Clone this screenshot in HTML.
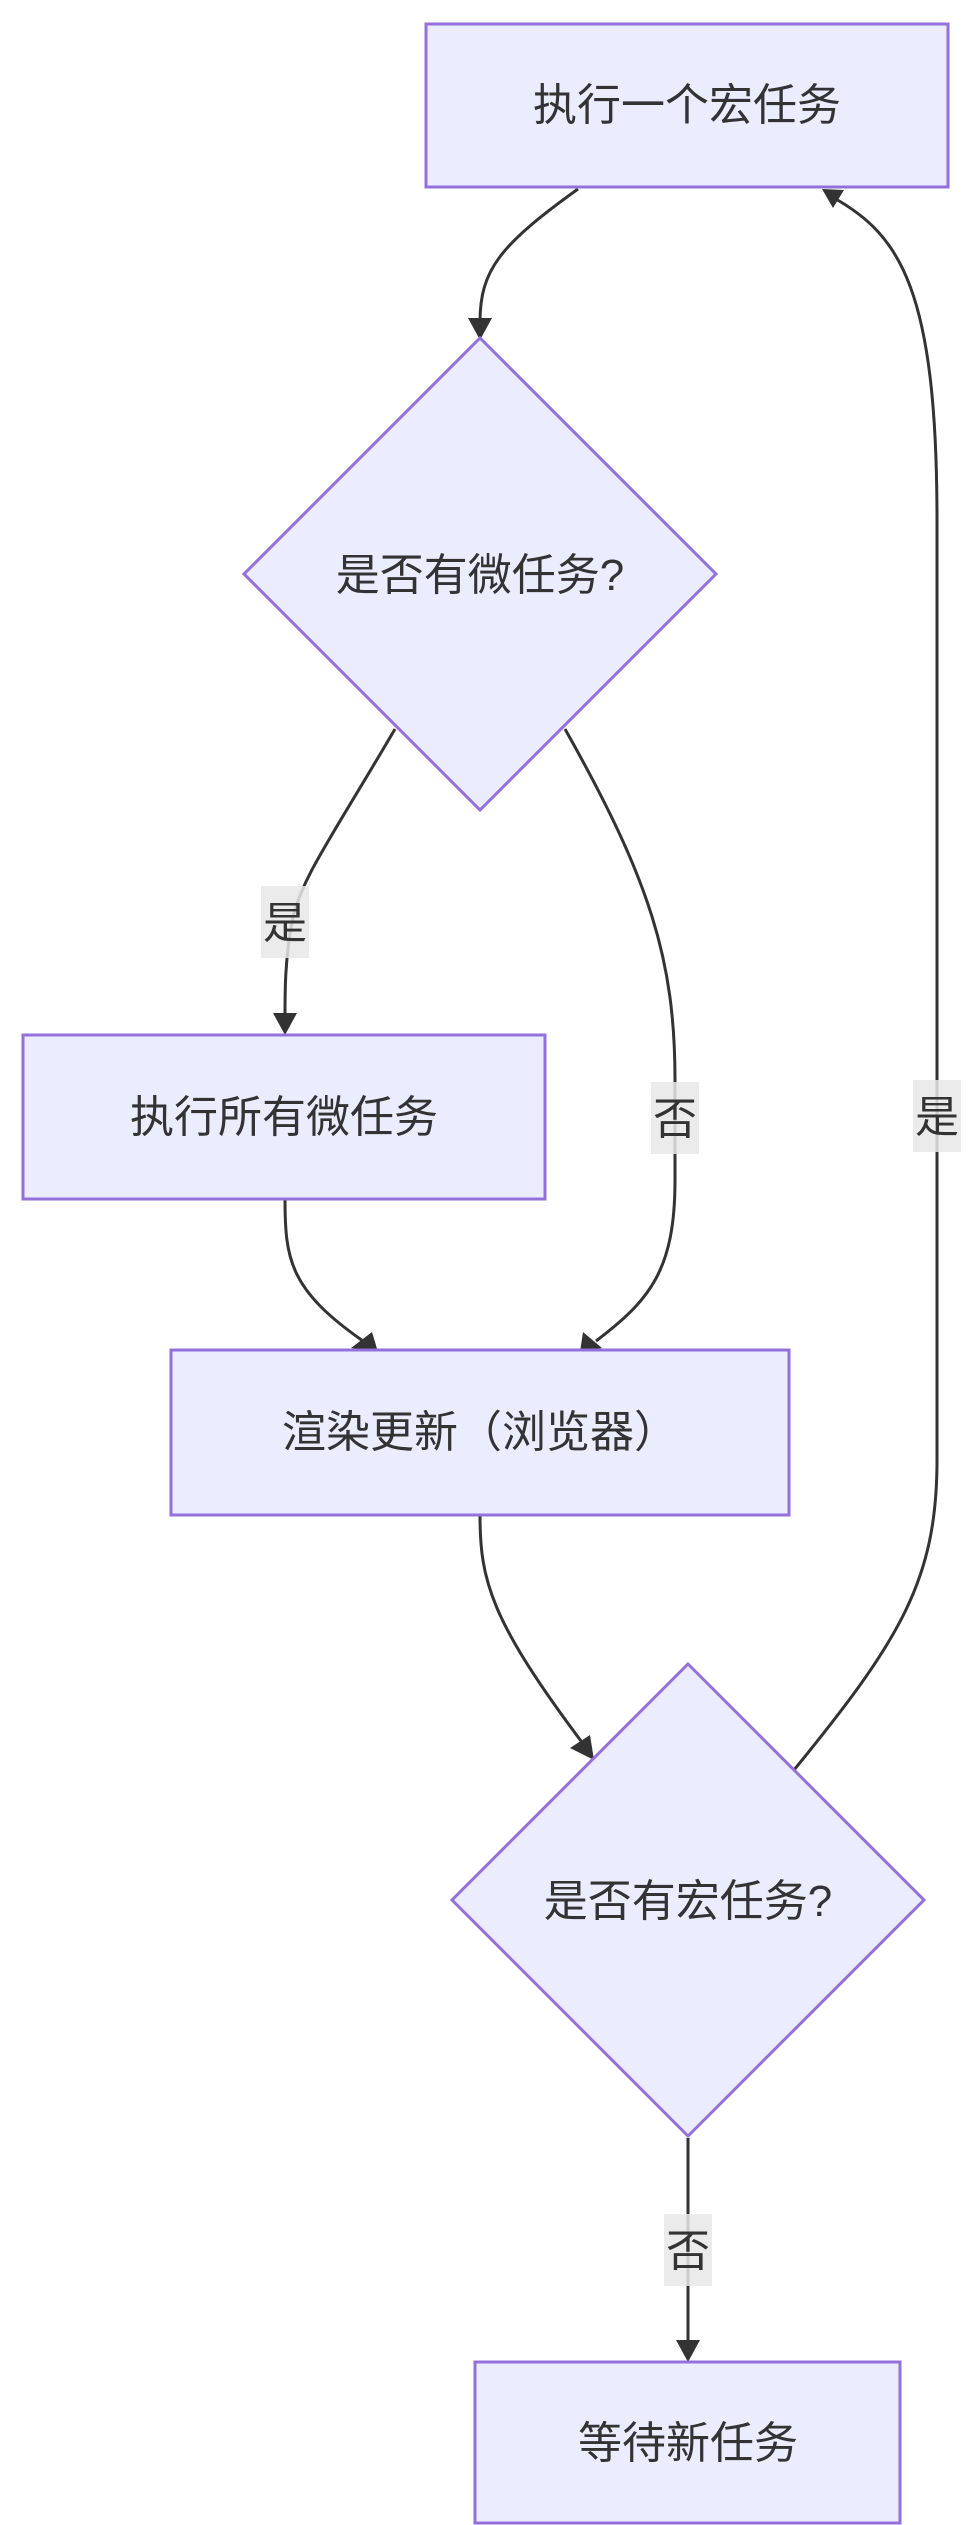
<!DOCTYPE html>
<html><head><meta charset="utf-8"><style>
html,body{margin:0;padding:0;background:#fff}
svg{display:block}
text{font-family:"Liberation Sans","Noto Sans CJK SC",sans-serif;font-size:44px;fill:#333}
.n{fill:#ececff;stroke:#9370db;stroke-width:3}
.e{fill:none;stroke:#333;stroke-width:3}
.l{fill:rgba(232,232,232,0.85)}
</style></head><body>
<svg width="976" height="2525" viewBox="0 0 976 2525" xmlns="http://www.w3.org/2000/svg">
<defs><marker id="a" viewBox="0 0 10 10" refX="9" refY="5" markerWidth="8" markerHeight="8" markerUnits="userSpaceOnUse" orient="auto" style="overflow:visible"><path d="M0,0 L10,5 L0,10 z" fill="#333" transform="scale(2.6) translate(-6,-0)"/></marker></defs>
<!-- edges -->
<path class="e" d="M578,189 C500,245 480,270 480,322" />
<path d="M468,318 L492,318 L480,340 z" fill="#333"/>
<path class="e" d="M395,729 C330,840 300,880 292,922 C285,960 285,990 285,1016"/>
<path d="M273,1013 L297,1013 L285,1035 z" fill="#333"/>
<path class="e" d="M565,729 C650,880 675,960 675,1080 L675,1180 C675,1270 650,1300 596,1341"/>
<path d="M583,1332 L602,1348 L580,1352 z" fill="#333"/>
<path class="e" d="M285,1199 C285,1260 290,1290 363,1341"/>
<path d="M351,1348 L372,1332 L378,1352 z" fill="#333"/>
<path class="e" d="M480,1515 C480,1580 490,1620 584,1745"/>
<path d="M570,1748 L590,1735 L594,1760 z" fill="#333"/>
<path class="e" d="M794,1770 C900,1640 937,1580 937,1460 L937,520 C937,290 900,235 834,198"/>
<path d="M822,189 L844,190 L833,208 z" fill="#333"/>
<path class="e" d="M688,2138 L688,2342"/>
<path d="M676,2340 L700,2340 L688,2362 z" fill="#333"/>
<!-- labels -->
<rect class="l" x="261" y="886" width="48" height="72"/><text x="285" y="938" text-anchor="middle">是</text>
<rect class="l" x="651" y="1082" width="48" height="72"/><text x="675" y="1134" text-anchor="middle">否</text>
<rect class="l" x="913" y="1080" width="48" height="72"/><text x="937" y="1132" text-anchor="middle">是</text>
<rect class="l" x="664" y="2214" width="48" height="72"/><text x="688" y="2266" text-anchor="middle">否</text>
<!-- nodes -->
<rect class="n" x="426" y="24" width="522" height="163"/>
<text x="687" y="120" text-anchor="middle">执行一个宏任务</text>
<polygon class="n" points="480,338 716,574 480,810 244,574"/>
<text x="480" y="590" text-anchor="middle">是否有微任务?</text>
<rect class="n" x="23" y="1035" width="522" height="164"/>
<text x="284" y="1132" text-anchor="middle">执行所有微任务</text>
<rect class="n" x="171" y="1350" width="618" height="165"/>
<text x="480" y="1447" text-anchor="middle">渲染更新（浏览器）</text>
<polygon class="n" points="688,1664 924,1900 688,2136 452,1900"/>
<text x="688" y="1916" text-anchor="middle">是否有宏任务?</text>
<rect class="n" x="475" y="2362" width="425" height="161"/>
<text x="688" y="2458" text-anchor="middle">等待新任务</text>
</svg>
</body></html>
